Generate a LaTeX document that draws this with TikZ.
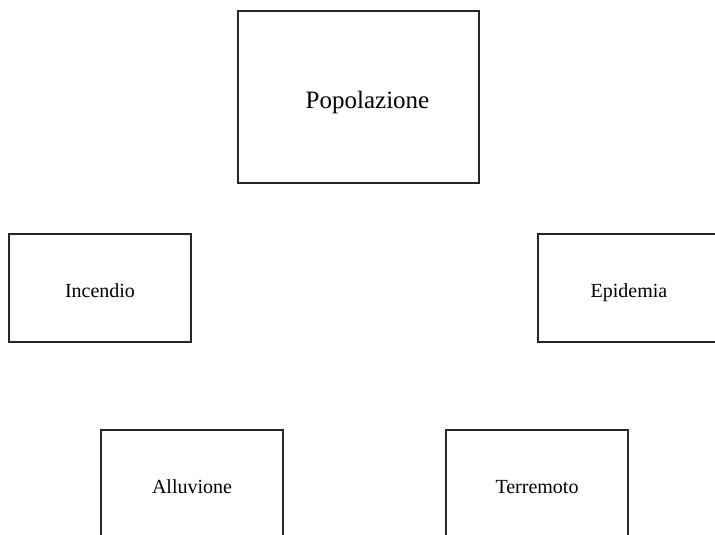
\documentclass[tikz,border=0pt]{standalone}
\usepackage{fontspec}
\setmainfont{Liberation Serif}

\begin{document}
\begin{tikzpicture}[x=1pt,y=-1pt,
        box/.style={draw=black!85,line width=1.3pt,minimum width=182pt,minimum height=108pt,
            inner sep=0pt,font=\fontsize{20}{24}\selectfont,text height=18pt,text depth=0pt},
        bigbox/.style={box,minimum width=241pt,minimum height=172pt,
            font=\fontsize{25}{30}\selectfont,text height=22pt}]
        \useasboundingbox (0,0) rectangle (715,535);
        \clip (0,0) rectangle (715,535);
        \node[bigbox] (pop) at (358.5,97) {\hspace*{18pt}Popolazione};
        \node[box] (inc) at (100,288) {Incendio};
        \node[box] (epi) at (629,288) {Epidemia};
        \node[box] (all) at (192,484) {Alluvione};
        \node[box] (ter) at (537,484) {Terremoto};
    \end{tikzpicture}
\end{document}
